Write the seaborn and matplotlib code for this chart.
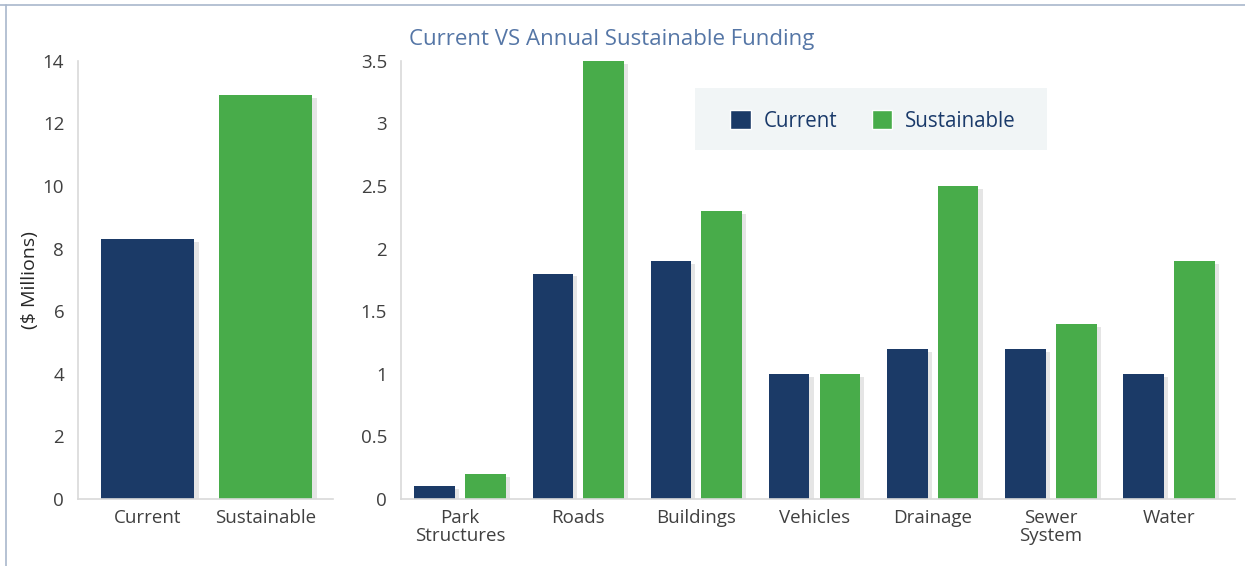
import seaborn as sns
import matplotlib.pyplot as plt
import pandas as pd
from matplotlib.patches import Patch, Rectangle
from matplotlib.lines import Line2D
import matplotlib.patheffects as pe

# totals (left panel)
total_labels = ["Current", "Sustainable"]
total_values = [8.3, 12.9]

# per asset class (right panel)
categories = ["Park\nStructures", "Roads", "Buildings", "Vehicles",
              "Drainage", "Sewer\nSystem", "Water"]
current_values = [0.1, 1.8, 1.9, 1.0, 1.2, 1.2, 1.0]
sustainable_values = [0.2, 3.5, 2.3, 1.0, 2.5, 1.4, 1.9]

left_ticks = [0, 2, 4, 6, 8, 10, 12, 14]
right_ticks = [0, 0.5, 1, 1.5, 2, 2.5, 3, 3.5]
right_ticklabels = ["0", "0.5", "1", "1.5", "2", "2.5", "3", "3.5"]

NAVY = "#1b3a67"
GREEN = "#48ac4a"
palette = {"Current": NAVY, "Sustainable": GREEN}

sns.set_theme(style="white")
plt.rcParams['font.family'] = ['Open Sans', 'DejaVu Sans']

df_total = pd.DataFrame({"Series": total_labels, "Value": total_values})
df_cat = pd.DataFrame({
    "Category": categories * 2,
    "Series": ["Current"] * len(categories) + ["Sustainable"] * len(categories),
    "Value": current_values + sustainable_values,
})

fig = plt.figure(figsize=(12.45, 5.66), dpi=100)
ax1 = fig.add_axes([0.0627, 0.1184, 0.2048, 0.774])
ax2 = fig.add_axes([0.3221, 0.1184, 0.670, 0.774])
for ax in (ax1, ax2):
    ax.set_facecolor("none")

sns.barplot(data=df_total, x="Series", y="Value", hue="Series", palette=palette,
            width=0.79, saturation=1, legend=False, ax=ax1)
sns.barplot(data=df_cat, x="Category", y="Value", hue="Series", palette=palette,
            width=0.86, gap=0.2, saturation=1, legend=False, ax=ax2)

shadow = [pe.SimplePatchShadow(offset=(3, -2), shadow_rgbFace="#999999", alpha=0.25),
          pe.Normal()]
for ax in (ax1, ax2):
    for p in ax.patches:
        p.set_path_effects(shadow)
        p.set_edgecolor("none")

ax1.set_ylim(0, 14)
ax1.set_xlim(-0.59, 1.57)
ax1.set_yticks(left_ticks)
ax2.set_ylim(0, 3.5)
ax2.set_xlim(-0.5, 6.56)
ax2.set_yticks(right_ticks)
ax2.set_yticklabels(right_ticklabels)

for ax in (ax1, ax2):
    ax.set_xlabel("")
    ax.set_ylabel("")
    for s in ("top", "right"):
        ax.spines[s].set_visible(False)
    for s in ("left", "bottom"):
        ax.spines[s].set_color("#d9d9d9")
        ax.spines[s].set_linewidth(1.2)
    ax.tick_params(axis="both", length=0, labelsize=13.5, labelcolor="#404040")
    ax.tick_params(axis="y", pad=10)
    ax.tick_params(axis="x", pad=7)
    for t in ax.get_xticklabels():
        t.set_linespacing(1.0)

ax1.set_ylabel("($ Millions)", fontsize=14, color="#262626", labelpad=3)

fig.text(0.4915, 0.93, "Current VS Annual Sustainable Funding", ha="center",
         va="center", fontsize=16, color="#5576a6")

# legend background box
fig.add_artist(Rectangle((695 / 1245, 1 - 150 / 566), 352 / 1245, 62 / 566,
                         transform=fig.transFigure, facecolor="#f1f5f6",
                         edgecolor="none", zorder=3))
handles = [Patch(facecolor=NAVY, label="Current"),
           Patch(facecolor=GREEN, label="Sustainable")]
leg = fig.legend(handles=handles, loc="center", bbox_to_anchor=(873 / 1245, 1 - 121 / 566),
                 ncol=2, frameon=False, fontsize=14.8, handlelength=1.0, handleheight=1.0,
                 handletextpad=0.6, columnspacing=1.7)
leg.set_zorder(4)
for t in leg.get_texts():
    t.set_color("#1a3a6a")

# picture frame lines (top and left)
fig.add_artist(Line2D([0, 1], [1 - 5 / 566, 1 - 5 / 566], transform=fig.transFigure,
                      color="#a9b8cc", linewidth=1.2))
fig.add_artist(Line2D([6 / 1245, 6 / 1245], [0, 1 - 5 / 566], transform=fig.transFigure,
                      color="#a9b8cc", linewidth=1.2))

fig.savefig("out.png", dpi=100)
